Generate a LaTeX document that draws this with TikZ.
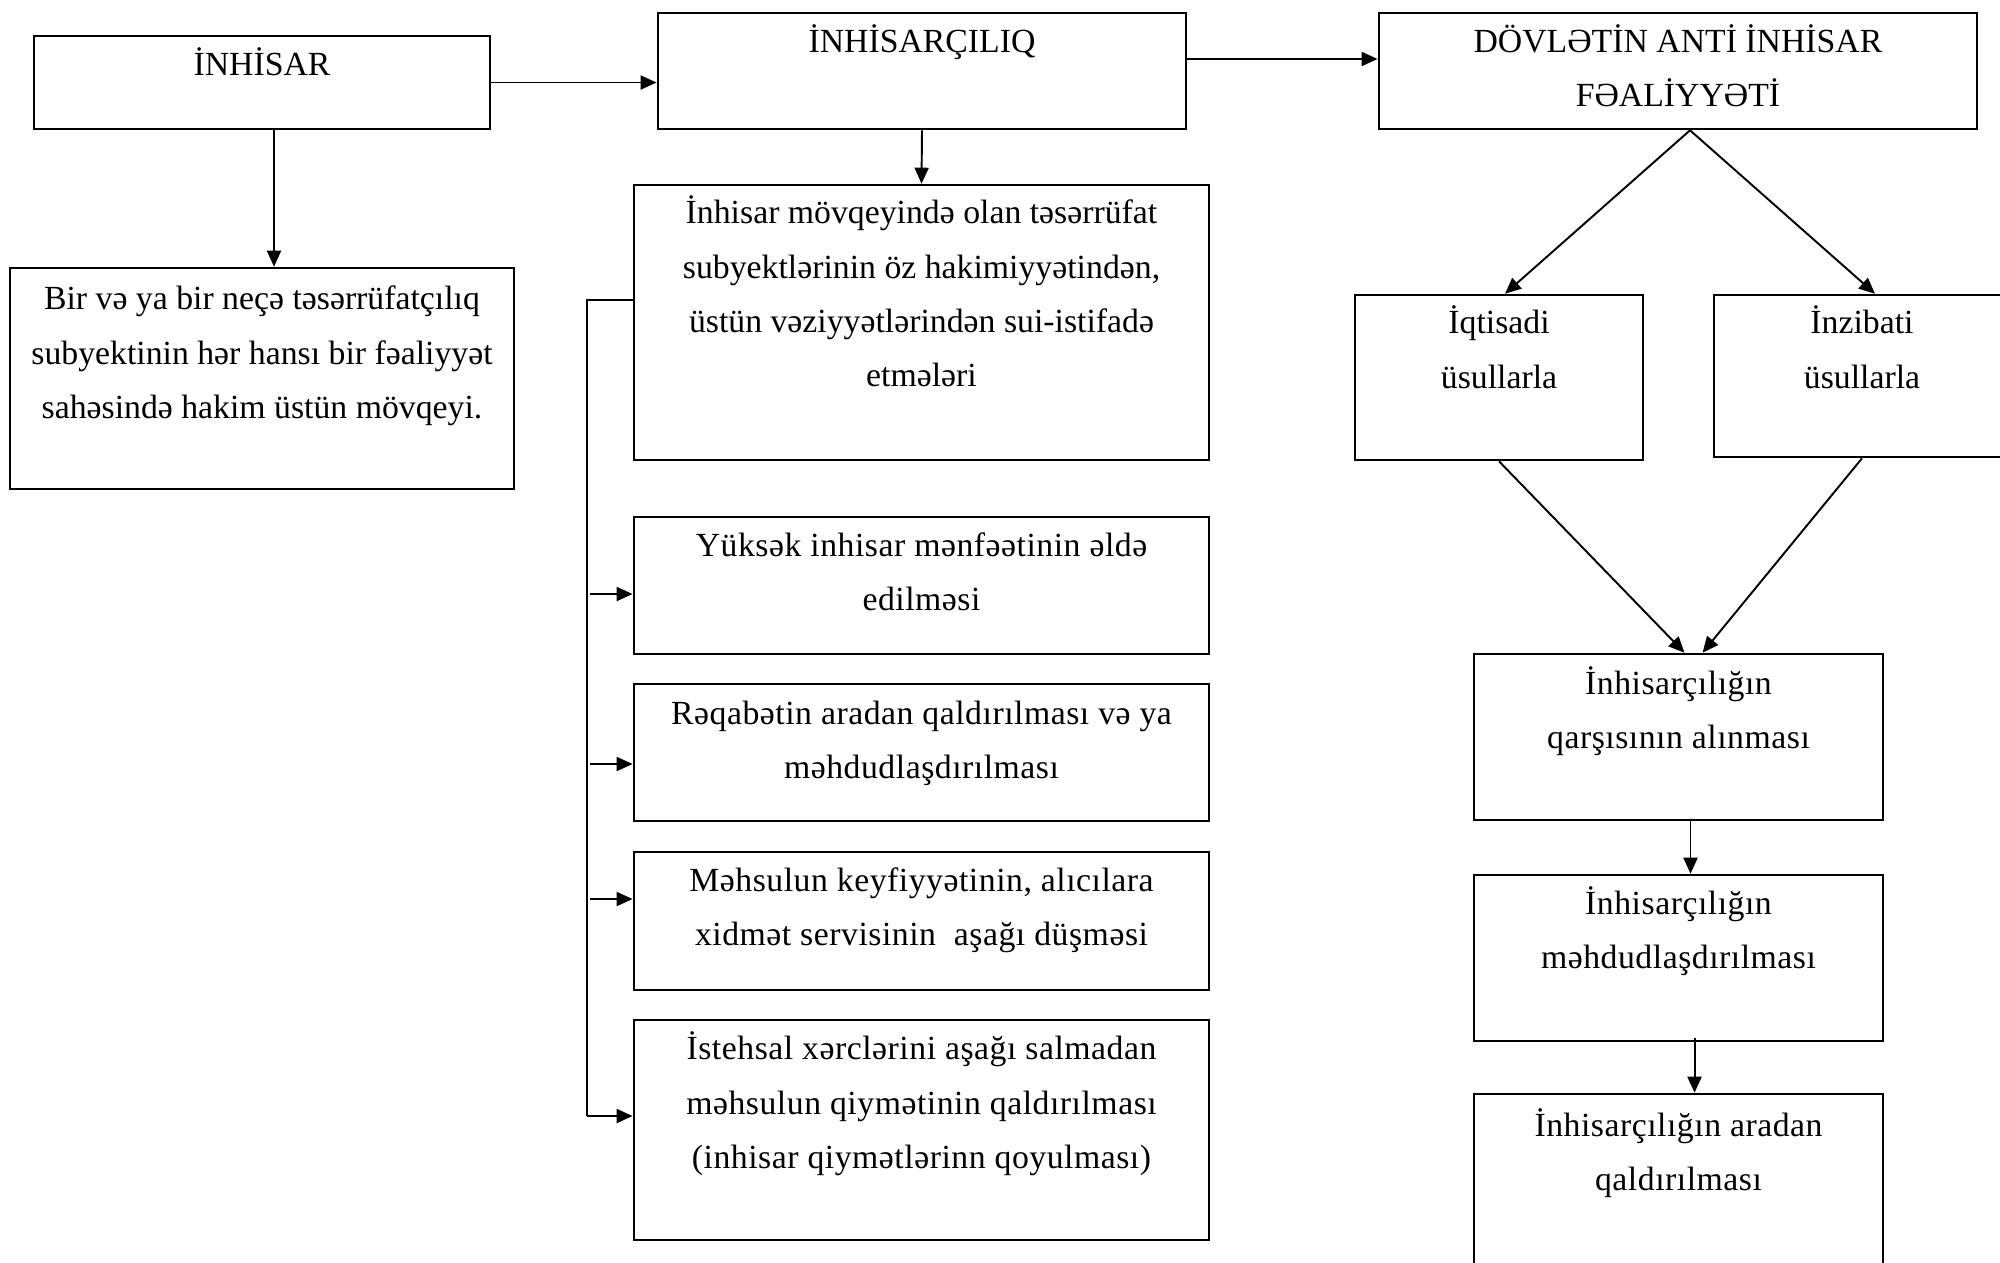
\documentclass[tikz,border=0pt]{standalone}
\usepackage{fontspec}
\setmainfont{Liberation Serif}
\newfontfamily\widefont[LetterSpace=1.5]{Liberation Serif}
\usetikzlibrary{arrows.meta,positioning}
% lines hang from the first baseline
\newcommand\boxlines[1]{\begin{tabular}[t]{@{}c@{}}#1\end{tabular}}

\begin{document}
\begin{tikzpicture}[x=0.01cm,y=-0.01cm,
  box/.style={draw,line width=0.7pt,inner sep=0pt,
    font=\fontsize{9.6}{15.4}\selectfont},
  wbox/.style={box,font=\widefont\fontsize{9.6}{15.4}\selectfont},
  dims/.style n args={3}{minimum width=#1cm,text height=#2cm,text depth=#3cm},
  arr/.style={-{Triangle[length=0.16cm,width=0.14cm]},line width=0.55pt}]
  \path[use as bounding box] (0,0) rectangle (2000,1262);
  \clip (0,0) rectangle (2000,1262);

  % top row
  \node[box,dims={4.56}{0.39}{0.54}] (inhisar) at (262,82.5) {İNHİSAR};
  \node[box,dims={5.28}{0.39}{0.77}] (inhisarciliq) at (922,71) {İNHİSARÇILIQ};
  \node[box,dims={5.98}{0.39}{0.77}] (dovlet) at (1678,71)
    {\boxlines{DÖVLƏTİN ANTİ İNHİSAR\\FƏALİYYƏTİ}};

  % left column
  \node[box,dims={5.04}{0.42}{1.79}] (tarif) at (262,378.5)
    {\boxlines{Bir və ya bir neçə təsərrüfatçılıq\\subyektinin hər hansı bir fəaliyyət\\sahəsində hakim üstün mövqeyi.}};

  % middle column
  \node[box,dims={5.75}{0.39}{2.36}] (movqe) at (921.5,322.5)
    {\boxlines{İnhisar mövqeyində olan təsərrüfat\\subyektlərinin öz hakimiyyətindən,\\üstün vəziyyətlərindən sui-istifadə\\etmələri}};
  \node[wbox,dims={5.75}{0.39}{0.98}] (menfeet) at (921.5,585.5)
    {\boxlines{Yüksək inhisar mənfəətinin əldə\\edilməsi}};
  \node[wbox,dims={5.75}{0.40}{0.97}] (reqabet) at (921.5,752.5)
    {\boxlines{Rəqabətin aradan qaldırılması və ya\\məhdudlaşdırılması}};
  \node[wbox,dims={5.75}{0.39}{0.99}] (keyfiyyet) at (921.5,921)
    {\boxlines{Məhsulun keyfiyyətinin, alıcılara\\xidmət servisinin\ \ aşağı düşməsi}};
  \node[wbox,dims={5.75}{0.40}{1.80}] (qiymet) at (921.5,1130)
    {\boxlines{İstehsal xərclərini aşağı salmadan\\məhsulun qiymətinin qaldırılması\\(inhisar qiymətlərinn qoyulması)}};

  % right column
  \node[box,dims={2.88}{0.39}{1.26}] (iqtisadi) at (1499,377.5) {\boxlines{İqtisadi\\üsullarla}};
  \node[box,dims={2.96}{0.39}{1.23}] (inzibati) at (1862,376) {\boxlines{İnzibati\\üsullarla}};
  \node[wbox,dims={4.09}{0.40}{1.26}] (qarsi) at (1678.5,737)
    {\boxlines{İnhisarçılığın\\qarşısının alınması}};
  \node[wbox,dims={4.09}{0.39}{1.27}] (mehdud) at (1678.5,958)
    {\boxlines{İnhisarçılığın\\məhdudlaşdırılması}};
  \node[wbox,dims={4.09}{0.42}{1.44}] (aradan) at (1678.5,1187)
    {\boxlines{İnhisarçılığın aradan\\qaldırılması}};

  % connectors
  \draw[arr] (inhisar.east) -- (inhisar.east -| inhisarciliq.west);
  \draw[arr] ([yshift=0.12cm]inhisarciliq.east) -- ([yshift=0.12cm]dovlet.west);
  \draw[arr] ([xshift=0.12cm]inhisar.south) -- ([xshift=0.12cm]tarif.north);
  \draw[arr] (inhisarciliq.south) -- (movqe.north);

  \coordinate (trunk) at (587,300);
  \coordinate (foot) at (587,1116);
  \draw[line width=0.55pt] (trunk -| movqe.west) -- (trunk) -- (foot);
  \draw[arr] (foot) -- (foot -| qiymet.west);
  \foreach \n/\y in {menfeet/594,reqabet/764,keyfiyyet/899}{
    \coordinate (s\n) at (590,\y);
    \draw[arr] (s\n) -- (s\n -| \n.west);}

  \draw[arr] ([xshift=0.12cm]dovlet.south) -- ([xshift=0.06cm]iqtisadi.north);
  \draw[arr] ([xshift=0.12cm]dovlet.south) -- ([xshift=0.13cm]inzibati.north);
  \draw[arr] (iqtisadi.south) -- ([xshift=0.06cm]qarsi.north);
  \draw[arr] (inzibati.south) -- ([xshift=0.24cm]qarsi.north);
  \draw[arr] ([xshift=0.12cm]qarsi.south) -- ([xshift=0.12cm]mehdud.north);
  \draw[arr] ([xshift=0.16cm,yshift=0.04cm]mehdud.south) -- ([xshift=0.16cm]aradan.north);
\end{tikzpicture}
\end{document}
